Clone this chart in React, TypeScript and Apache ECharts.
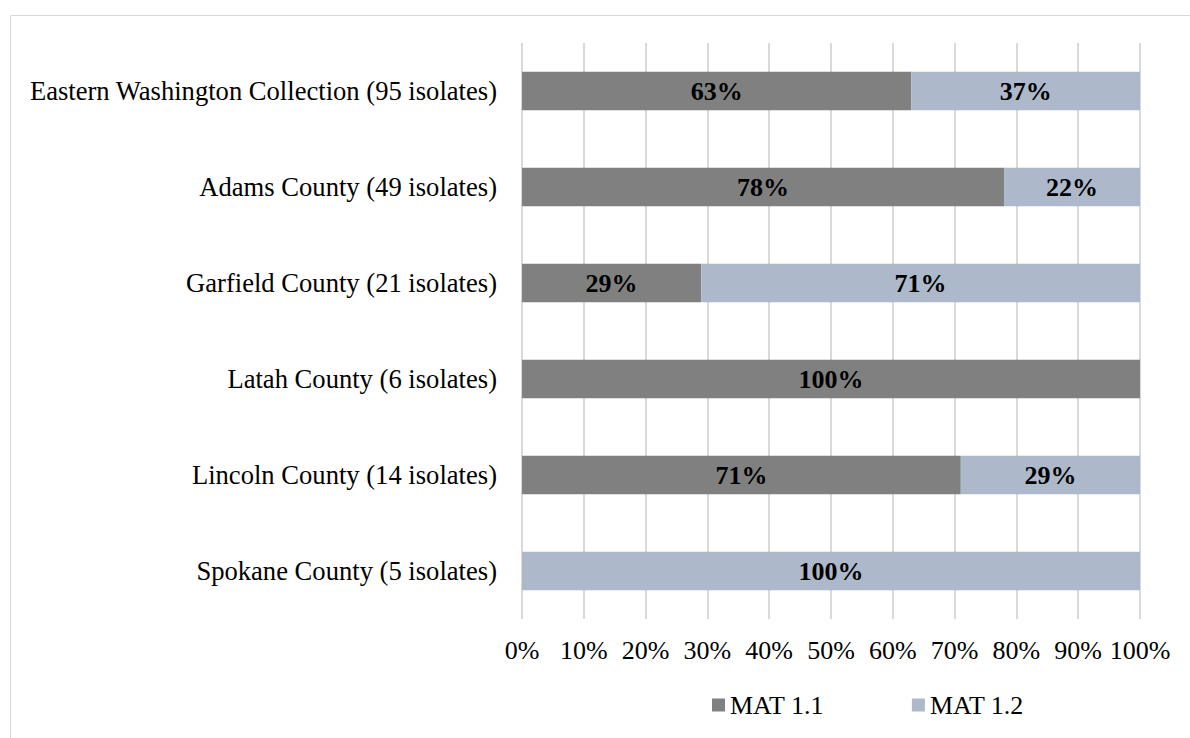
import React, { useEffect, useRef } from "react";
import * as echarts from "echarts";

const categories = [
  "Eastern Washington Collection (95 isolates)",
  "Adams County (49 isolates)",
  "Garfield County (21 isolates)",
  "Latah County (6 isolates)",
  "Lincoln County (14 isolates)",
  "Spokane County (5 isolates)",
];
const mat11 = [63, 78, 29, 100, 71, 0];
const mat12 = [37, 22, 71, 0, 29, 100];
const seriesNames = ["MAT 1.1", "MAT 1.2"];
const colors = ["#808080", "#ADB9CA"];

const FONT = "Liberation Serif";
const SIZE = 26;

export default function App() {
  const ref = useRef<HTMLDivElement>(null);
  useEffect(() => {
    if (!ref.current) return;
    const chart = echarts.init(ref.current, null, { renderer: "svg" });
    const label = {
      show: true,
      position: "inside",
      color: "#000",
      fontFamily: FONT,
      fontSize: SIZE,
      fontWeight: "bold",
      formatter: (p: any) => (p.value > 0 ? p.value + "%" : ""),
    };
    chart.setOption({
      animation: false,
      backgroundColor: "#fff",
      textStyle: { fontFamily: FONT },
      graphic: [
        {
          type: "rect",
          shape: { x: 10.5, y: 15.5, width: 1300, height: 800 },
          style: { fill: "none", stroke: "#d9d9d9", lineWidth: 1 },
          silent: true,
        },
      ],
      grid: { left: 522, right: 50, top: 43, bottom: 119 },
      legend: {
        data: seriesNames,
        left: 707,
        top: 687,
        itemWidth: 13,
        itemHeight: 13,
        itemGap: 88,
        icon: "rect",
        textStyle: { fontFamily: FONT, fontSize: SIZE, color: "#000" },
      },
      xAxis: {
        type: "value",
        min: 0,
        max: 100,
        interval: 10,
        axisLine: { show: false },
        axisTick: { show: false },
        splitLine: { lineStyle: { color: "#d9d9d9", width: 2 } },
        axisLabel: {
          formatter: "{value}%",
          fontFamily: FONT,
          fontSize: SIZE,
          color: "#000",
          margin: 18,
        },
      },
      yAxis: {
        type: "category",
        data: categories,
        inverse: true,
        axisLine: { show: false },
        axisTick: { show: false },
        axisLabel: {
          fontFamily: FONT,
          fontSize: 26.6,
          color: "#000",
          margin: 25,
        },
      },
      series: [
        {
          name: seriesNames[0],
          type: "bar",
          stack: "total",
          data: mat11,
          barCategoryGap: "60%",
          itemStyle: { color: colors[0] },
          label,
        },
        {
          name: seriesNames[1],
          type: "bar",
          stack: "total",
          data: mat12,
          barCategoryGap: "60%",
          itemStyle: { color: colors[1] },
          label,
        },
      ],
    });
    return () => chart.dispose();
  }, []);
  return (
    <div
      ref={ref}
      style={{ position: "fixed", left: 0, top: 0, width: 1190, height: 738 }}
    />
  );
}
